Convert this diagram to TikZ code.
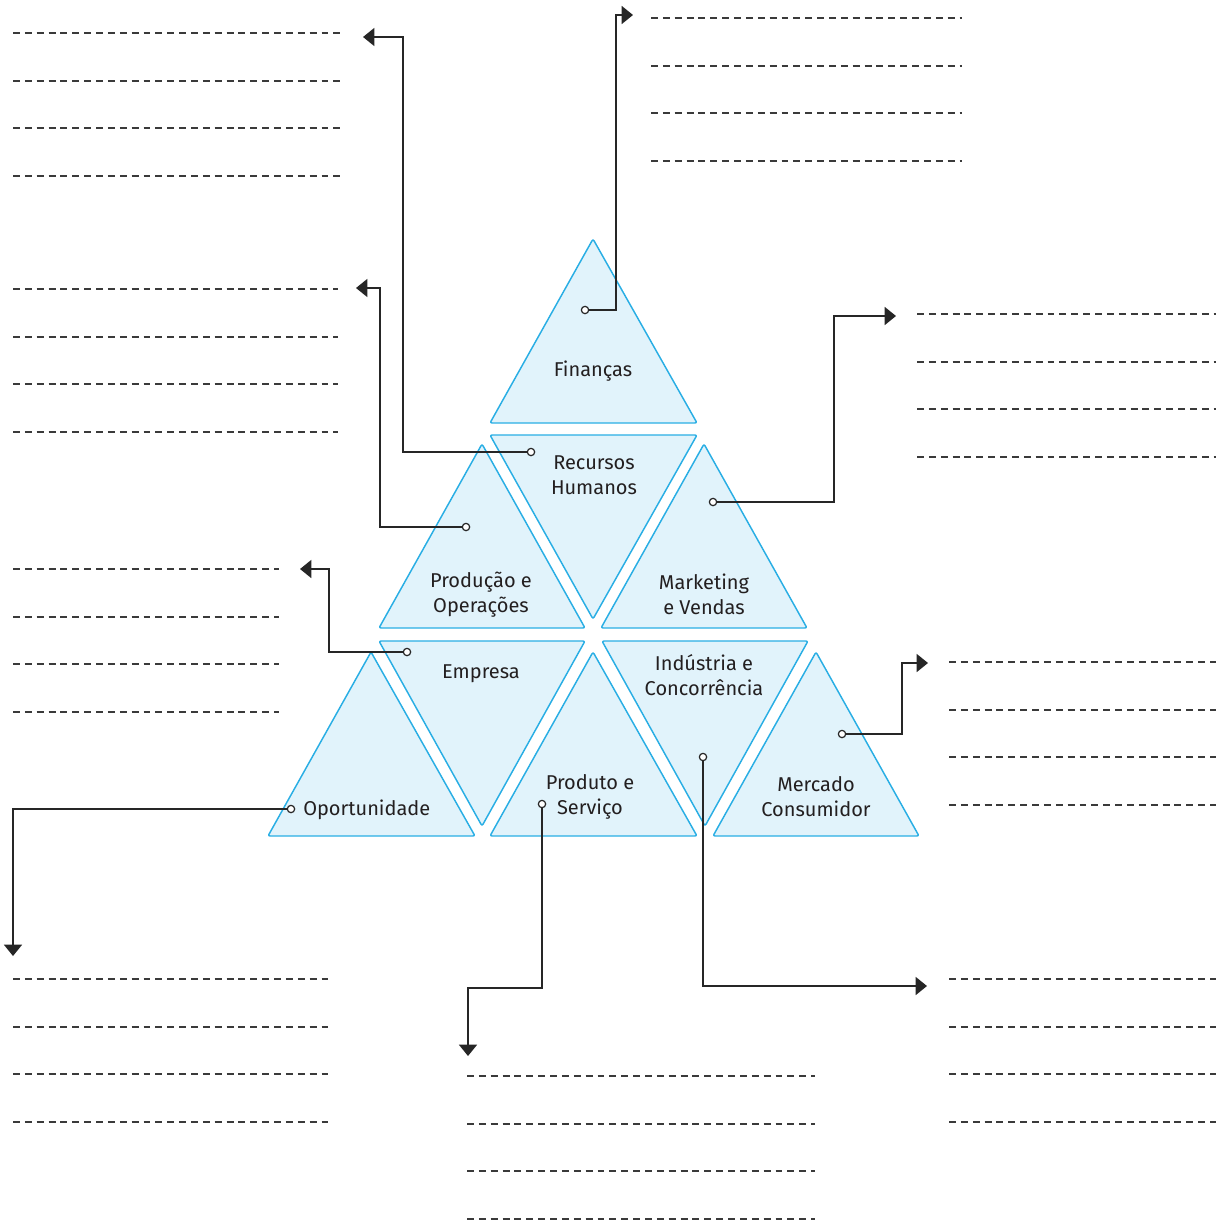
\documentclass[tikz,border=0pt]{standalone}
\usepackage{fontspec}
\setmainfont{Fira Sans}
\usetikzlibrary{arrows.meta}
\definecolor{trifill}{HTML}{E1F3FB}
\definecolor{tristroke}{HTML}{29AEE4}
\definecolor{txt}{HTML}{231F20}
\definecolor{dashc}{HTML}{3A3A3A}
\tikzset{
  tri/.style={draw=tristroke, fill=trifill, line width=1.1pt, rounded corners=1.5pt, line join=round},
  lbl/.style={text=txt, font=\fontsize{15}{18.75}\selectfont, align=center, inner sep=0pt},
  conn/.style={draw=black!85, line width=1.1pt, -{Triangle[length=8.5pt,width=13.5pt]}},
  dot/.style={circle, draw=black!85, fill=white, line width=0.9pt, minimum size=5.5pt, inner sep=0pt},
  blank/.style={draw=dashc, line width=1.5pt, dash pattern=on 5.2pt off 3.7pt},
}
\newcommand{\blanks}[3]{% x1, x2, first y
  \foreach \k in {0,1,2,3} {\draw[blank] (#1,{#3+47.7*\k}) -- (#2,{#3+47.7*\k});}
}
\begin{document}
\begin{tikzpicture}[x=0.75pt,y=-0.75pt]
\useasboundingbox (0,0) rectangle (1226,1221);
% triangles
\draw[tri] (593,239) -- (697,423) -- (490,423) -- cycle;
\draw[tri] (490,435) -- (697,435) -- (593,619) -- cycle;
\draw[tri] (482,444) -- (585,628) -- (379,628) -- cycle;
\draw[tri] (704,444) -- (807,628) -- (601,628) -- cycle;
\draw[tri] (379,641) -- (585,641) -- (482,826) -- cycle;
\draw[tri] (602,641) -- (808,641) -- (705,826) -- cycle;
\draw[tri] (371,652) -- (475,836) -- (268,836) -- cycle;
\draw[tri] (593,652) -- (697,836) -- (490,836) -- cycle;
\draw[tri] (816,652) -- (919,836) -- (713,836) -- cycle;
% labels
\node[lbl] (tfin) at (593,371) {Finanças};
\node[lbl] (trh) at (594,475) {Recursos\\Humanos};
\node[lbl] (tprod) at (481,595) {Produção e\\Operações};
\node[lbl] (tmkt) at (704,594) {Marketing\\e Vendas};
\node[lbl] (temp) at (481,674) {Empresa};
\node[lbl] (tind) at (704,675) {Indústria e\\Concorrência};
\node[lbl, anchor=west] (topo) at (303,810) {Oportunidade};
\node[lbl] (tps) at (590,797) {Produto e\\Serviço};
\node[lbl] (tmer) at (816,797) {Mercado\\Consumidor};
% blanks
\blanks{13}{343}{33}
\blanks{651}{962}{18}
\blanks{13}{338}{289}
\blanks{917}{1216}{314}
\blanks{13}{279}{569}
\blanks{949}{1216}{662}
\blanks{13}{332}{979}
\blanks{467}{815}{1076}
\blanks{949}{1216}{979}
% connector anchors
\node[dot] (dfin) at (585,310) {};
\node[dot] (drh) at (531,452) {};
\node[dot] (dprod) at (466,527) {};
\node[dot] (dmkt) at (713,502) {};
\node[dot] (demp) at (407,652) {};
\node[dot] (dmer) at (842,734) {};
\node[dot] (dopo) at (291,809) {};
\node[dot] (dps) at (542,804) {};
\node[dot] (dind) at (703,757) {};
\coordinate (kfin) at (616,15);   \coordinate (efin) at (633,15);
\coordinate (krh) at (403,37);    \coordinate (erh) at (363,37);
\coordinate (kprod) at (380,288); \coordinate (eprod) at (356,288);
\coordinate (kmkt) at (834,316);  \coordinate (emkt) at (896,316);
\coordinate (kemp) at (329,569);  \coordinate (eemp) at (300,569);
\coordinate (kmer) at (902,663);  \coordinate (emer) at (928,663);
\coordinate (kopo) at (13,809);   \coordinate (eopo) at (13,956);
\coordinate (kps1) at (542,988);  \coordinate (kps2) at (468,988); \coordinate (eps) at (468,1056);
\coordinate (kind) at (703,986);  \coordinate (eind) at (927,986);
% connectors
\draw[conn] (dfin) -| (kfin) -- (efin);
\draw[conn] (drh) -| (krh) -- (erh);
\draw[conn] (dprod) -| (kprod) -- (eprod);
\draw[conn] (dmkt) -| (kmkt) -- (emkt);
\draw[conn] (demp) -| (kemp) -- (eemp);
\draw[conn] (dmer) -| (kmer) -- (emer);
\draw[conn] (dopo) -- (kopo) -- (eopo);
\draw[conn] (dps) -- (kps1) -- (kps2) -- (eps);
\draw[conn] (dind) -- (kind) -- (eind);
\end{tikzpicture}
\end{document}
